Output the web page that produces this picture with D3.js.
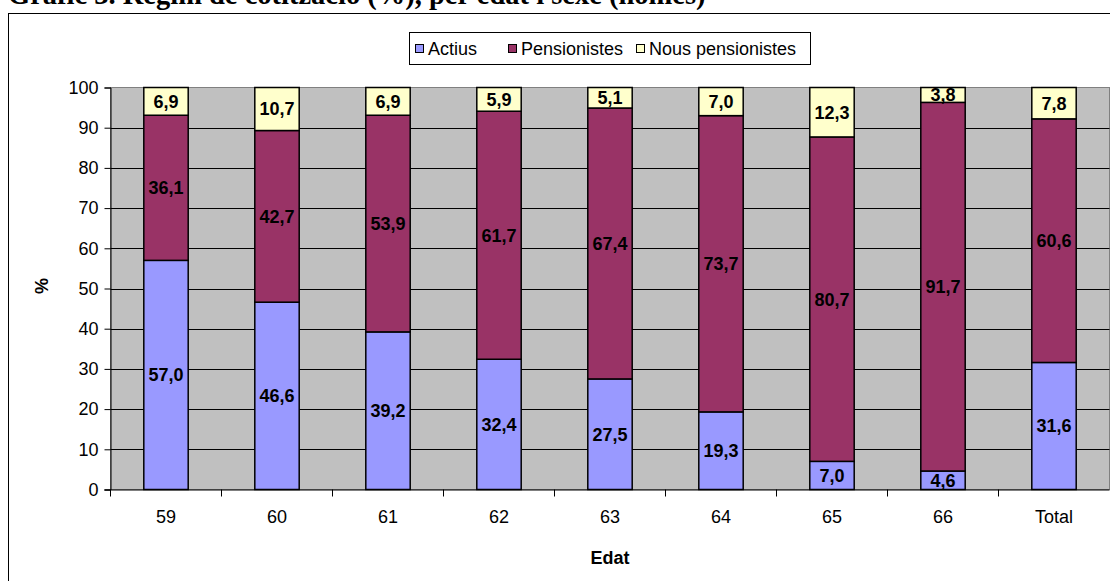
<!DOCTYPE html>
<html><head><meta charset="utf-8">
<script src="https://cdn.jsdelivr.net/npm/d3@7"></script>
<style>body{margin:0;background:#fff}svg{display:block}</style>
</head><body>
<script>
const categories = ["59","60","61","62","63","64","65","66","Total"];
const actius = [57.0,46.6,39.2,32.4,27.5,19.3,7.0,4.6,31.6];
const pensionistes = [36.1,42.7,53.9,61.7,67.4,73.7,80.7,91.7,60.6];
const nousPensionistes = [6.9,10.7,6.9,5.9,5.1,7.0,12.3,3.8,7.8];
const seriesNames = ["Actius","Pensionistes","Nous pensionistes"];
const seriesColors = ["#9999FF","#993366","#FFFFCC"];
const yTicks = [0,10,20,30,40,50,60,70,80,90,100];
const titleText = "Gràfic 3. Règim de cotització (%), per edat i sexe (homes)";

const W=1110,H=581;
const svg=d3.select("body").append("svg").attr("width",W).attr("height",H);
const plot={l:110.5,r:1109.5,t:87.5,b:489.5};
const SANS="Liberation Sans, Arial, sans-serif";

// title (clipped at the top edge, as in the reference)
svg.append("text").attr("x",8).attr("y",3.5).attr("font-family","Liberation Serif, Times New Roman, serif")
  .attr("font-weight","bold").attr("font-size",28.5).attr("fill","#000").text(titleText);

// outer frame
svg.append("rect").attr("x",8.5).attr("y",13.5).attr("width",1110).attr("height",600)
  .attr("fill","none").attr("stroke","#000").attr("stroke-width",1);

const x=d3.scaleBand().domain(categories).range([plot.l,plot.r]).paddingInner(0.6).paddingOuter(0.3);
const xb=d3.scaleBand().domain(categories).range([plot.l,plot.r]);
const y=d3.scaleLinear().domain([0,100]).range([plot.b,plot.t]);

svg.append("rect").attr("x",plot.l).attr("y",plot.t).attr("width",plot.r-plot.l).attr("height",plot.b-plot.t)
  .attr("fill","#C0C0C0").attr("stroke","#808080").attr("stroke-width",1);

// gridlines
svg.append("g").selectAll("line").data(yTicks.filter(d=>d>0&&d<100)).join("line")
  .attr("x1",plot.l).attr("x2",plot.r).attr("y1",d=>Math.round(y(d))+0.5).attr("y2",d=>Math.round(y(d))+0.5)
  .attr("stroke","#000").attr("stroke-width",1);

// stacked data
const rows=categories.map((c,i)=>({cat:c,Actius:actius[i],Pensionistes:pensionistes[i],"Nous pensionistes":nousPensionistes[i]}));
const stack=d3.stack().keys(seriesNames)(rows);

const g=svg.append("g");
stack.forEach((s,si)=>{
  g.selectAll(null).data(s).join("rect")
    .attr("x",d=>x(d.data.cat)).attr("width",x.bandwidth())
    .attr("y",d=>y(Math.min(d[1],100))).attr("height",d=>y(d[0])-y(Math.min(d[1],100)))
    .attr("fill",seriesColors[si]).attr("stroke","#000").attr("stroke-width",1.5);
});
stack.forEach((s,si)=>{
  g.selectAll(null).data(s).join("text")
    .attr("x",d=>x(d.data.cat)+x.bandwidth()/2)
    .attr("y",d=>y((d[0]+d[1])/2))
    .attr("dy","0.36em").attr("text-anchor","middle")
    .attr("font-family",SANS).attr("font-weight","bold").attr("font-size",18)
    .attr("fill","#000")
    .text(d=>d3.format(".1f")(d[1]-d[0]).replace(".",","));
});

// y axis
const ya=svg.append("g").attr("transform",`translate(${plot.l},0)`)
  .call(d3.axisLeft(y).tickValues(yTicks).tickSize(6).tickPadding(6));
ya.select(".domain").attr("stroke","#000");
ya.selectAll("line").attr("stroke","#000");
ya.selectAll("text").attr("font-family",SANS).attr("font-size",18).attr("fill","#000");

// x axis
const xa=svg.append("g").attr("transform",`translate(0,${plot.b})`)
  .call(d3.axisBottom(xb).tickSize(0).tickPadding(21));
xa.select(".domain").attr("stroke","#000").attr("d",`M${plot.l-6},0.5H${plot.r}`);
xa.selectAll("text").attr("font-family",SANS).attr("font-size",18).attr("fill","#000");
svg.append("g").selectAll("line").data(d3.range(categories.length)).join("line")
  .attr("x1",i=>plot.l+i*xb.step()).attr("x2",i=>plot.l+i*xb.step())
  .attr("y1",plot.b).attr("y2",plot.b+7).attr("stroke","#000");

// axis titles
svg.append("text").attr("x",(plot.l+plot.r)/2).attr("y",564).attr("text-anchor","middle")
  .attr("font-family",SANS).attr("font-weight","bold").attr("font-size",18).text("Edat");
svg.append("text").attr("transform","translate(48,286) rotate(-90)").attr("text-anchor","middle")
  .attr("font-family",SANS).attr("font-weight","bold").attr("font-size",18).text("%");

// legend
const lg=svg.append("g");
lg.append("rect").attr("x",409.5).attr("y",32.5).attr("width",401).attr("height",32)
  .attr("fill","#fff").attr("stroke","#000").attr("stroke-width",1);
const lx=[415,508,636];
seriesNames.forEach((n,i)=>{
  lg.append("rect").attr("x",lx[i]+0.5).attr("y",44.5).attr("width",8).attr("height",8)
    .attr("fill",seriesColors[i]).attr("stroke","#000");
  lg.append("text").attr("x",lx[i]+13).attr("y",55)
    .attr("font-family",SANS).attr("font-size",18).text(n);
});
</script>
</body></html>
